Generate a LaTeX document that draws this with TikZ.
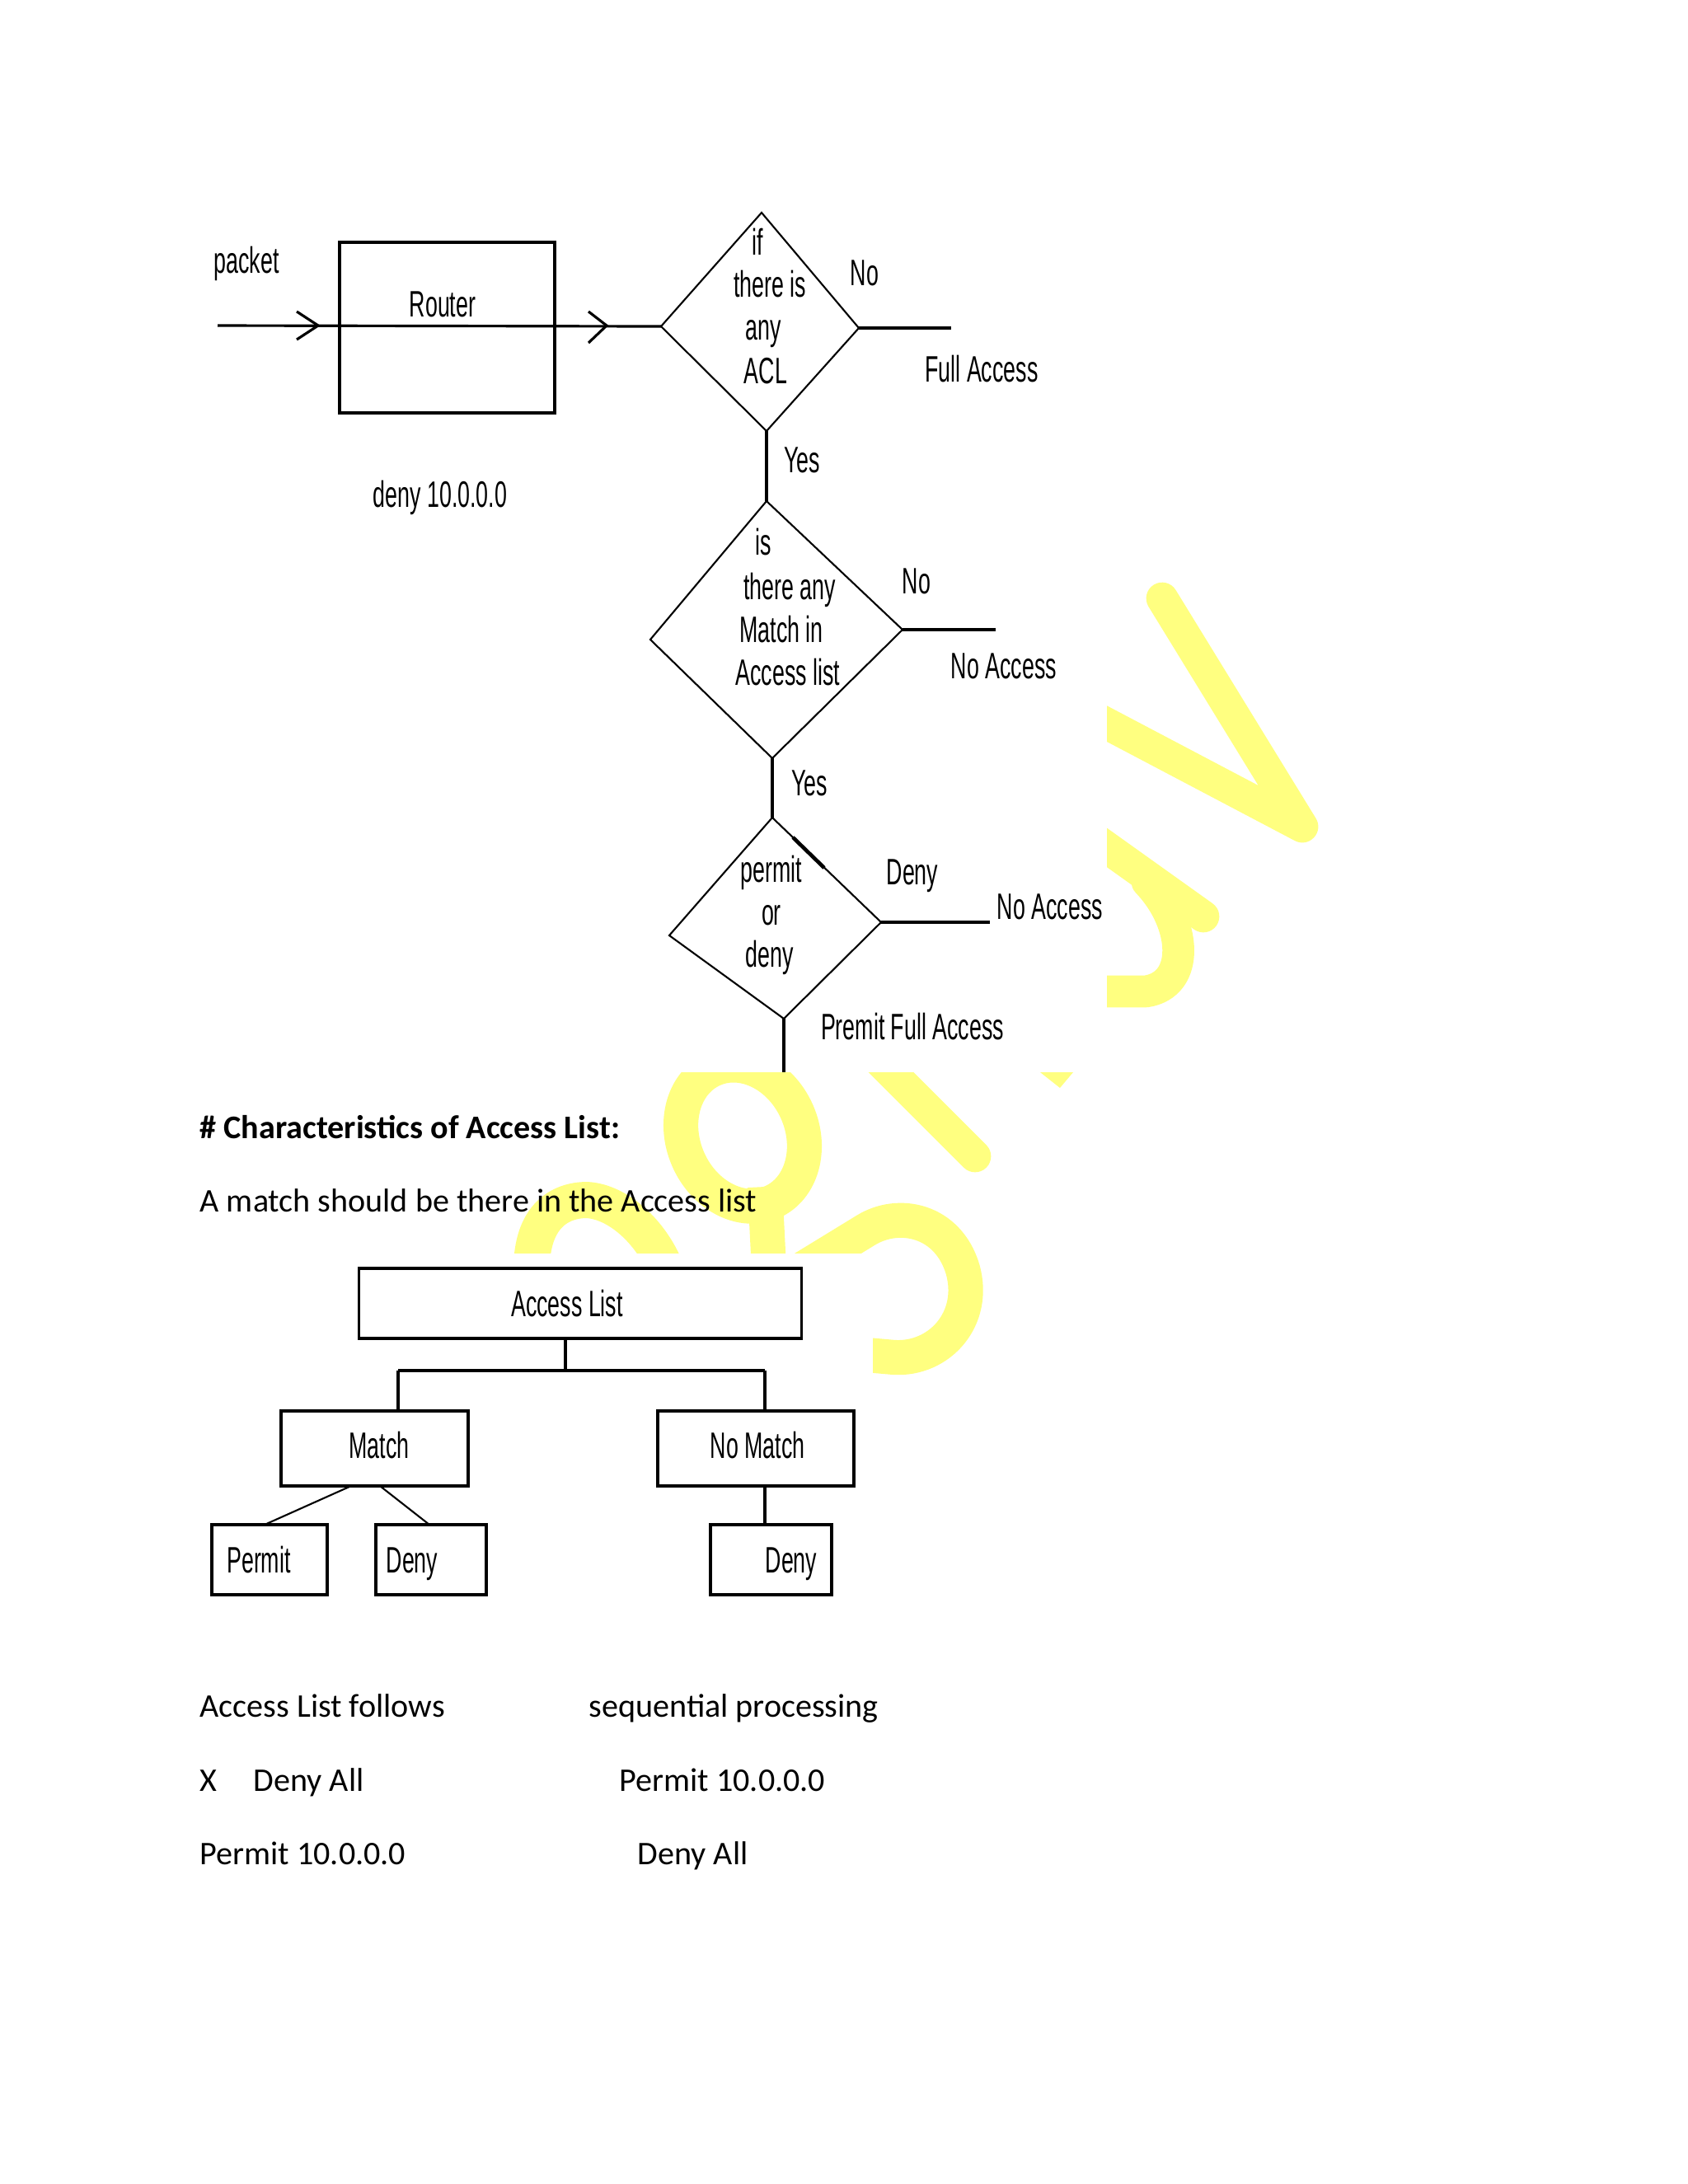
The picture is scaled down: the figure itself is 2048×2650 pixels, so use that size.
\documentclass[tikz,border=0pt]{standalone}
\usepackage{fontspec}
\setmainfont{Carlito}
\newfontfamily\diagfont[FakeStretch=0.6]{Liberation Sans}
\definecolor{wmyellow}{RGB}{255,255,128}
\begin{document}
\begin{tikzpicture}[x=0.01cm,y=-0.01cm,
  wm/.style={draw=wmyellow, line width=11pt, line cap=round, line join=round},
  dtext/.style={font=\diagfont\fontsize{12.7pt}{14pt}\selectfont, anchor=base, inner sep=0pt},
  btext/.style={font=\fontsize{11.4pt}{13pt}\selectfont, anchor=base west, inner sep=0pt},
  thinline/.style={line width=0.6pt},
  mainline/.style={line width=0.9pt},
  treebox/.style={draw, line width=0.9pt, inner sep=0pt},
]
\fill[white] (0,0) rectangle (2048,2650);
\useasboundingbox (0,0) rectangle (2048,2650);

% ---------------- watermark (partly hidden) ----------------
\draw[wm] (1410,726) -- (1580,1003) -- (1320,866);
\draw[wm] (1320,1012) -- (1460,1112);
\draw[wm] (1392,1070) .. controls (1440,1120) and (1445,1195) .. (1390,1203) -- (1320,1203);
\draw[wm, line width=12pt, rotate around={-66:(901,1378)}] (901,1378) ellipse [x radius=0.88cm, y radius=0.72cm];
\draw[wm, line width=12pt, line cap=butt] (928,1440) -- (933,1540);
\draw[wm, line width=12.5pt] (645,1540) .. controls (645,1475) and (680,1456) .. (712,1456) .. controls (750,1458) and (790,1495) .. (808,1540);
\draw[wm, line width=12pt] (965,1545) -- (1050,1493) .. controls (1090,1468) and (1150,1480) .. (1168,1540) .. controls (1185,1600) and (1140,1650) .. (1085,1647) -- (1040,1643);
\draw[wm] (1045,1265) -- (1183,1403);
\fill[wmyellow] (1262,1301) -- (1302,1301) -- (1286,1320) -- cycle;
% white image backgrounds
\fill[white] (0,0) rectangle (1343,1301);
\fill[white] (0,1521) rectangle (1059,2650);

% ---------------- top flow diagram ----------------
\coordinate (pin) at (264,395);
\node[draw, mainline, minimum width=2.61cm, minimum height=2.07cm, inner sep=0pt] (router) at (542.5,397.5) {};
\node[dtext] (routerlbl) at (537,384) {Router};
\node[dtext] (packet) at (299,331) {packet};
\draw[mainline] (360,378) -- (386,395) -- (360,412);
\draw[mainline] (714,378) -- (736,395) -- (714,416);

% diamond 1
\coordinate (d1t) at (924,258);
\coordinate (d1l) at (802,396);
\coordinate (d1r) at (1042,398);
\coordinate (d1b) at (930,523);
\draw[thinline] (d1t) -- (d1r) -- (d1b) -- (d1l) -- cycle;
\draw[mainline] (pin) -- (d1l);
\node[dtext] (t1a) at (919,309) {if};
\node[dtext] (t1b) at (934,360) {there is};
\node[dtext] (t1c) at (926,412) {any};
\node[dtext] (t1d) at (929,465) {ACL};
\coordinate (fullend) at (1154,398);
\draw[mainline] (d1r) -- (fullend);
\node[dtext] (no1) at (1049,346) {No};
\node[dtext] (full) at (1191,463) {Full Access};

% diamond 2
\coordinate (d2t) at (930,608);
\coordinate (d2l) at (789,776);
\coordinate (d2r) at (1095,764);
\coordinate (d2b) at (937,920);
\draw[thinline] (d2t) -- (d2r) -- (d2b) -- (d2l) -- cycle;
\draw[mainline] (d1b) -- (d2t);
\node[dtext] (yes1) at (973,573) {Yes};
\node[dtext] (deny10) at (534,615) {deny 10.0.0.0};
\node[dtext] (t2a) at (926,673) {is};
\node[dtext] (t2b) at (958,727) {there any};
\node[dtext] (t2c) at (948,779) {Match in};
\node[dtext] (t2d) at (956,831) {Access list};
\coordinate (noacc1end) at (1208,764);
\draw[mainline] (d2r) -- (noacc1end);
\node[dtext] (no2) at (1112,720) {No};
\node[dtext] (noacc1) at (1218,823) {No Access};

% diamond 3
\coordinate (d3t) at (937,992);
\coordinate (d3l) at (812,1135);
\coordinate (d3r) at (1069,1119);
\coordinate (d3b) at (951,1236);
\draw[thinline] (d3t) -- (d3r) -- (d3b) -- (d3l) -- cycle;
\draw[line width=1.3pt] (962,1016) -- (1000,1053);
\draw[mainline] (d2b) -- (d3t);
\node[dtext] (yes2) at (982,965) {Yes};
\node[dtext] (t3a) at (936,1070) {permit};
\node[dtext] (t3b) at (936,1122) {or};
\node[dtext] (t3c) at (934,1173) {deny};
\coordinate (noacc2end) at (1201,1119);
\draw[mainline] (d3r) -- (noacc2end);
\node[dtext] (deny3) at (1107,1073) {Deny};
\node[dtext] (noacc2) at (1274,1115) {No Access};
\coordinate (permend) at (951,1301);
\draw[mainline] (d3b) -- (permend);
\node[dtext] (premit) at (1107,1261) {Premit Full Access};

% ---------------- text ----------------
\node[btext, font=\fontsize{11.4pt}{13pt}\selectfont\bfseries] (head) at (242,1381) {\# Characteristics of Access List:};
\node[btext] (amatch) at (242,1470) {A match should be there in the Access list};

% ---------------- tree ----------------
\node[treebox, minimum width=5.36cm, minimum height=0.85cm] (alist) at (704,1581.5) {};
\node[dtext] (alistlbl) at (688,1597) {Access List};
\node[treebox, minimum width=2.27cm, minimum height=0.91cm] (match) at (454.5,1757.5) {};
\node[dtext] (matchlbl) at (460,1769) {Match};
\node[treebox, minimum width=2.38cm, minimum height=0.91cm] (nomatch) at (917,1757.5) {};
\node[dtext] (nomatchlbl) at (919,1769) {No Match};
\node[treebox, minimum width=1.40cm, minimum height=0.85cm] (permit) at (327,1892.5) {};
\node[dtext] (permitlbl) at (314,1908) {Permit};
\node[treebox, minimum width=1.34cm, minimum height=0.85cm] (deny1) at (523,1892.5) {};
\node[dtext] (deny1lbl) at (500,1908) {Deny};
\node[treebox, minimum width=1.47cm, minimum height=0.85cm] (deny2) at (935.5,1892.5) {};
\node[dtext] (deny2lbl) at (960,1908) {Deny};

\coordinate (tj) at (686,1663);
\coordinate (tl) at (483,1663);
\coordinate (tr) at (928,1663);
\draw[mainline] (tj |- alist.south) -- (tj);
\draw[mainline] (tl) -- (tr);
\draw[mainline] (tl) -- (tl |- match.north);
\draw[mainline] (tr) -- (tr |- nomatch.north);
\draw[mainline] (tr |- nomatch.south) -- (tr |- deny2.north);
\coordinate (ma) at (426,1803);
\coordinate (mb) at (461,1803);
\coordinate (pa) at (321,1850);
\coordinate (da) at (521,1850);
\draw[thinline] (ma) -- (pa);
\draw[thinline] (mb) -- (da);

% ---------------- bottom text ----------------
\node[btext] (follows) at (242,2083) {Access List follows};
\node[btext] (seq) at (714,2083) {sequential processing};
\node[btext] (xmark) at (242,2173) {X};
\node[btext] (denyall1) at (307,2173) {Deny All};
\node[btext] (permit1) at (751,2173) {Permit 10.0.0.0};
\node[btext] (permit2) at (242,2262) {Permit 10.0.0.0};
\node[btext] (denyall2) at (773,2262) {Deny All};
\end{tikzpicture}
\end{document}
